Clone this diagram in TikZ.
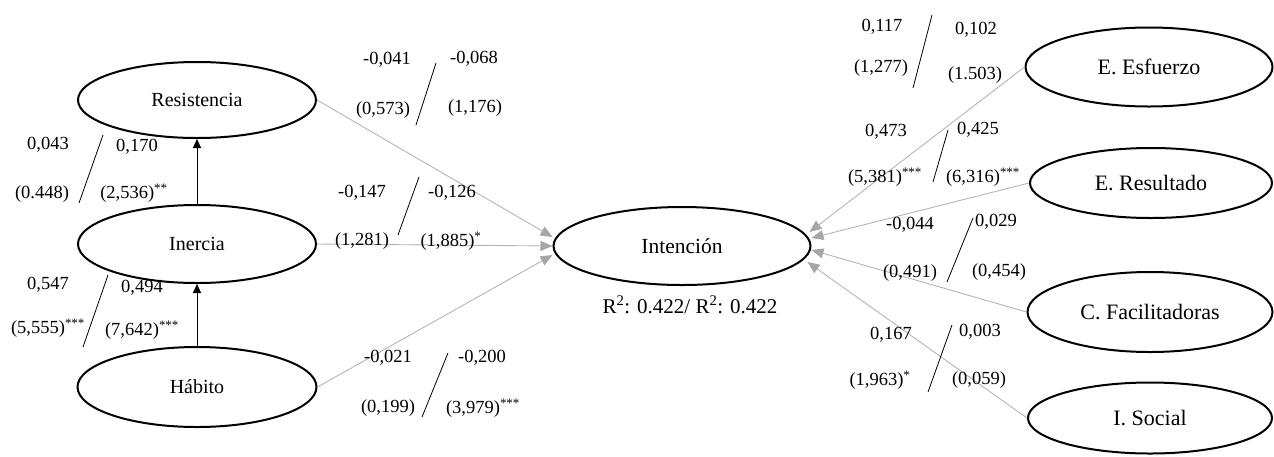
\documentclass[tikz,border=0pt]{standalone}
\usepackage{fontspec}
\setmainfont{Liberation Serif}
\usetikzlibrary{arrows.meta,shapes.geometric}
\definecolor{lgray}{HTML}{B4B4B4}
\definecolor{agray}{HTML}{A6A6A6}
\begin{document}
\begin{tikzpicture}[x=1pt,y=-1pt,
  lat/.style={ellipse, draw, line width=2pt, inner sep=0pt, font=\fontsize{20}{24}\selectfont},
  latr/.style={lat, font=\fontsize{22}{26}\selectfont},
  lab/.style={inner sep=0pt, font=\fontsize{18.5}{22}\selectfont},
  gpath/.style={draw=lgray, line width=0.9pt, -{Triangle[length=12pt,width=10pt,color=agray]}},
  bpath/.style={draw=black, line width=0.9pt, -{Triangle[length=9pt,width=8pt]}},
  slash/.style={draw=black, line width=0.8pt}]
\useasboundingbox (0,0) rectangle (1274,456);

% latent variables
\node[lat, minimum width=238, minimum height=76] (res) at (197,100) {Resistencia};
\node[lat, minimum width=238, minimum height=78] (ine) at (197,244) {Inercia};
\node[lat, minimum width=239, minimum height=80] (hab) at (197,387) {Hábito};
\node[lat, minimum width=257, minimum height=78, font=\fontsize{21.5}{26}\selectfont] (int) at (682,246) {Intención};
\node[latr, minimum width=247, minimum height=79] (esf) at (1149,67) {E. Esfuerzo};
\node[latr, minimum width=242, minimum height=70] (resu) at (1151,183) {E. Resultado};
\node[latr, minimum width=245, minimum height=80] (fac) at (1150,312) {C. Facilitadoras};
\node[latr, minimum width=244, minimum height=71] (soc) at (1150,418) {I. Social};

% connectors
\draw[bpath] (ine.north) -- (res.south);
\draw[bpath] (hab.north) -- (ine.south);
\draw[gpath] (res.east) -- ([yshift=9pt]int.west);
\draw[gpath] (ine.east) -- (int.west);
\draw[gpath] (hab.east) -- ([yshift=-9pt]int.west);
\draw[gpath] (esf.west) -- ([xshift=-2pt,yshift=14pt]int.east);
\draw[gpath] (resu.west) -- ([yshift=8pt]int.east);
\draw[gpath] (fac.west) -- ([yshift=-4pt]int.east);
\draw[gpath] (soc.west) -- ([xshift=-4pt,yshift=-16pt]int.east);

% Inercia -> Resistencia
\node[lab] (l1) at (48,145) {0,043};
\node[lab] (l2) at (42,194) {(0.448)};
\node[lab] (l3) at (137,147) {0,170};
\node[lab] (l4) at (134,193) {(2,536)\textsuperscript{**}};
\draw[slash] (79,203) -- (103,135);

% Habito -> Inercia
\node[lab] (l5) at (48,285) {0,547};
\node[lab] (l6) at (48,328) {(5,555)\textsuperscript{***}};
\node[lab] (l7) at (142,288) {0,494};
\node[lab] (l8) at (142,330) {(7,642)\textsuperscript{***}};
\draw[slash] (83,347) -- (108,275);

% Resistencia -> Intencion
\node[lab] (l9) at (387,60) {-0,041};
\node[lab] (l10) at (383,110) {(0,573)};
\node[lab] (l11) at (474,59) {-0,068};
\node[lab] (l12) at (475,108) {(1,176)};
\draw[slash] (416,125) -- (436,63);

% Inercia -> Intencion
\node[lab] (l13) at (362,193) {-0,147};
\node[lab] (l14) at (452,193) {-0,126};
\node[lab] (l15) at (362,241) {(1,281)};
\node[lab] (l16) at (451,241) {(1,885)\textsuperscript{*}};
\draw[slash] (398,235) -- (419,177);

% Habito -> Intencion
\node[lab] (l17) at (388,358) {-0,021};
\node[lab] (l18) at (482,358) {-0,200};
\node[lab] (l19) at (388,408) {(0,199)};
\node[lab] (l20) at (483,408) {(3,979)\textsuperscript{***}};
\draw[slash] (422,417) -- (448,353);

% R2
\node[lab, font=\fontsize{21}{25}\selectfont] (r2) at (690,305) {R\textsuperscript{2}: 0.422/ R\textsuperscript{2}: 0.422};

% E. Esfuerzo
\node[lab] (l21) at (882,27) {0,117};
\node[lab] (l22) at (976,30) {0,102};
\node[lab] (l23) at (881,68) {(1,277)};
\node[lab] (l24) at (975,75) {(1.503)};
\draw[slash] (913,88) -- (932,15);

% E. Resultado
\node[lab] (l25) at (886,132) {0,473};
\node[lab] (l26) at (978,130) {0,425};
\node[lab] (l27) at (885,177) {(5,381)\textsuperscript{***}};
\node[lab] (l28) at (983,177) {(6,316)\textsuperscript{***}};
\draw[slash] (933,182) -- (948,130);

% C. Facilitadoras
\node[lab] (l29) at (910,225) {-0,044};
\node[lab] (l30) at (996,222) {0,029};
\node[lab] (l31) at (910,273) {(0,491)};
\node[lab] (l32) at (999,272) {(0,454)};
\draw[slash] (947,282) -- (973,218);

% I. Social
\node[lab] (l33) at (891,335) {0,167};
\node[lab] (l34) at (980,332) {0,003};
\node[lab] (l35) at (880,380) {(1,963)\textsuperscript{*}};
\node[lab] (l36) at (979,380) {(0,059)};
\draw[slash] (928,392) -- (952,325);
\end{tikzpicture}
\end{document}
